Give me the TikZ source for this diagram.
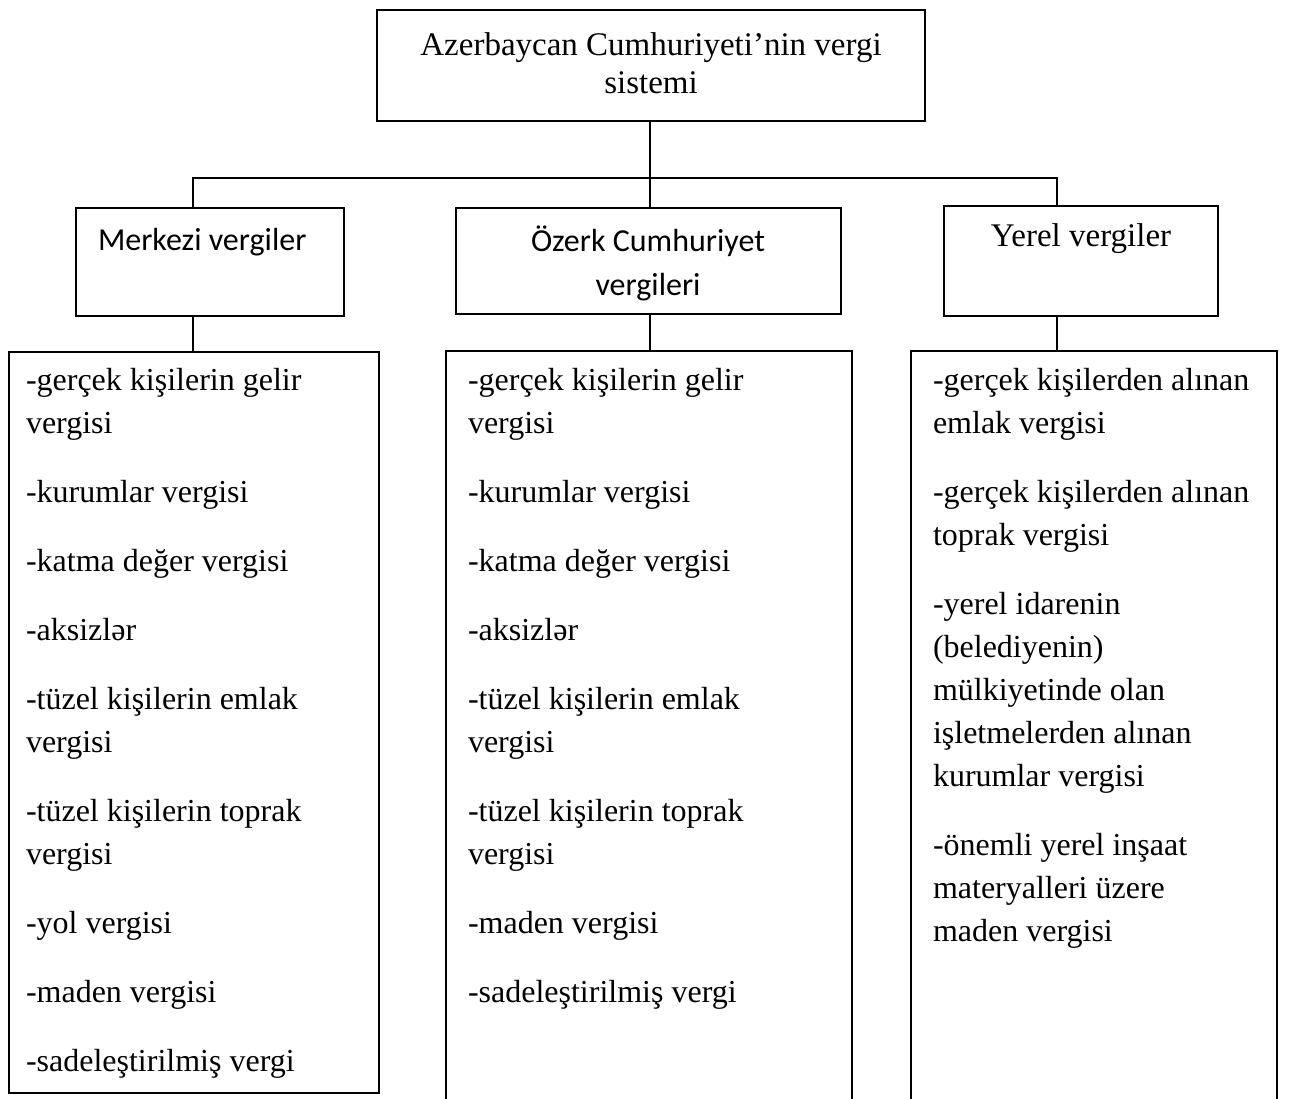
\documentclass[tikz,border=0pt]{standalone}
\usepackage{fontspec}
\setmainfont{Liberation Serif}
\newfontfamily\calfont{Carlito}

\begin{document}
\begin{tikzpicture}[x=1pt,y=-1pt,line width=2pt,
  box/.style={draw,inner sep=0pt},
  frame/.style={inner sep=0pt},
  lbl/.style={inner sep=0pt,font=\fontsize{33}{38}\selectfont},
  cal/.style={inner sep=0pt,font=\calfont\fontsize{32}{44}\selectfont},
  items/.style={inner sep=0pt,anchor=north west,align=left,
    font=\fontsize{32}{43}\selectfont}]
  \useasboundingbox (0,0) rectangle (1289,1098);

  % top of the tree
  \node[box,minimum width=548pt,minimum height=111pt] (root) at (651,65.5) {};
  \node[lbl,align=center,anchor=north] (rootT) at (651,32)
    {Azerbaycan Cumhuriyeti’nin vergi\\sistemi};

  % three kinds of taxes
  \node[box,minimum width=268pt,minimum height=108pt] (merk) at (210,261.5) {};
  \node[box,minimum width=385pt,minimum height=106pt] (ozk) at (648.5,261) {};
  \node[box,minimum width=274pt,minimum height=110pt] (yer) at (1081,260.5) {};
  \node[cal,anchor=base west] (merkT) at (97,250) {Merkezi vergiler};
  \node[cal,align=center,anchor=north] (ozkT) at (648,225)
    {Özerk Cumhuriyet\\vergileri};
  \node[lbl,anchor=base] (yerT) at (1081,246) {Yerel vergiler};

  % lists (the two right ones run off the page)
  \node[box,minimum width=370pt,minimum height=741pt] (mlist) at (194,722.5) {};
  \node[frame,minimum width=404pt,minimum height=746pt] (olist) at (649,725) {};
  \node[frame,minimum width=364pt,minimum height=746pt] (ylist) at (1094,725) {};
  \foreach \n in {olist,ylist}
    \draw (\n.south west) -- (\n.north west) -- (\n.north east) -- (\n.south east);

  \node[items] (mlistT) at (25,367)
    {-gerçek kişilerin gelir\\vergisi\\[26pt]
     -kurumlar vergisi\\[26pt]
     -katma değer vergisi\\[26pt]
     -aksizlər\\[26pt]
     -tüzel kişilerin emlak\\vergisi\\[26pt]
     -tüzel kişilerin toprak\\vergisi\\[26pt]
     -yol vergisi\\[26pt]
     -maden vergisi\\[26pt]
     -sadeleştirilmiş vergi};
  \node[items] (olistT) at (467,367)
    {-gerçek kişilerin gelir\\vergisi\\[26pt]
     -kurumlar vergisi\\[26pt]
     -katma değer vergisi\\[26pt]
     -aksizlər\\[26pt]
     -tüzel kişilerin emlak\\vergisi\\[26pt]
     -tüzel kişilerin toprak\\vergisi\\[26pt]
     -maden vergisi\\[26pt]
     -sadeleştirilmiş vergi};
  \node[items] (ylistT) at (932,367)
    {-gerçek kişilerden alınan\\emlak vergisi\\[26pt]
     -gerçek kişilerden alınan\\toprak vergisi\\[26pt]
     -yerel idarenin\\(belediyenin)\\mülkiyetinde olan\\işletmelerden alınan\\kurumlar vergisi\\[26pt]
     -önemli yerel inşaat\\materyalleri üzere\\maden vergisi};

  % connectors
  \coordinate (busL) at (193,178);
  \coordinate (busM) at (650,178);
  \coordinate (busR) at (1057,178);
  \draw (root.south -| busM) -- (busM);
  \draw (busL |- merk.north) -- (busL) -- (busR) -- (busR |- yer.north);
  \draw (busM) -- (busM |- ozk.north);
  \foreach \b/\h/\l in {busL/merk/mlist,busM/ozk/olist,busR/yer/ylist}
    \draw (\h.south -| \b) -- (\b |- \l.north);
\end{tikzpicture}
\end{document}
